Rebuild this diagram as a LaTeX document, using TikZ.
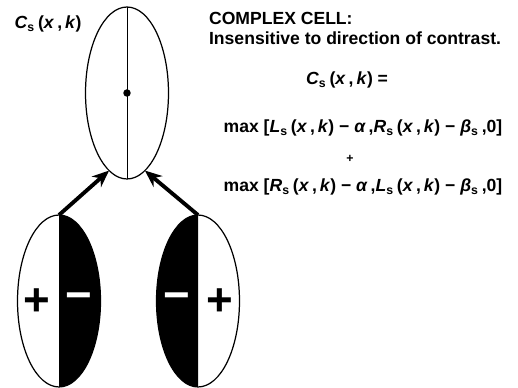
\documentclass[tikz,border=0pt]{standalone}
\usepackage{fontspec}
\setmainfont{Liberation Sans}
\usetikzlibrary{arrows.meta,positioning,shapes.geometric}
\tikzset{
  field/.style ={ellipse,draw=black,line width=0.7pt,inner sep=0pt,outer sep=0pt,
                 minimum width=1.66cm,minimum height=3.44cm},
  sign/.style  ={inner sep=0pt,font=\fontsize{26}{26}\selectfont\bfseries},
  txt/.style   ={inner sep=1pt,font=\fontsize{10}{12}\selectfont\bfseries},
  feed/.style  ={-{Stealth[length=3.4mm,width=2.8mm]},line width=2.2pt}
}
\newcommand{\var}[1]{\textit{#1}}
\newcommand{\sbs}{\textsubscript{s}}

\begin{document}
\begin{tikzpicture}[x=0.02cm,y=0.02cm]
  \useasboundingbox (0,0) rectangle (518,388);
  % complex cell and its two simple-cell inputs
  \node[field] (cplx) at (127,295) {};
  \node[field] (onoff) at (59,87) {};
  \node[field] (offon) at (198,87) {};
  \fill (onoff.north) arc[start angle=90,end angle=-90,x radius=0.83cm,y radius=1.72cm] -- cycle;
  \fill (offon.north) arc[start angle=90,end angle=270,x radius=0.83cm,y radius=1.72cm] -- cycle;
  \draw[line width=0.45pt] (cplx.north) -- (cplx.south);
  \fill (cplx.center) circle[radius=0.075cm];
  \node[sign] (lplus) at (37,86) {+};
  \node[sign,text=white] (lminus) at (79,86) {−};
  \node[sign,text=white] (rminus) at (177,86) {−};
  \node[sign] (rplus) at (220,86) {+};
  \draw[feed] (onoff.north) -- (cplx.-103);
  \draw[feed] (offon.north) -- (cplx.-77);
  % labels and equations
  \node[txt] (clabel) at (48,364) {\var{C}\sbs\,(\var{x}\,,\,\var{k})};
  \node[txt,anchor=west] (head) at (207,370) {COMPLEX CELL:};
  \node[txt,anchor=west] (rule) at (207,350) {Insensitive to direction of contrast.};
  \node[txt] (lhs) at (347,308) {\var{C}\sbs\,(\var{x}\,,\,\var{k}) =};
  \node[txt] (maxlr) at (363,260) {max [\var{L}\sbs\,(\var{x}\,,\,\var{k}) − \var{α}\,,\var{R}\sbs\,(\var{x}\,,\,\var{k}) − \var{β}\sbs\,,0]};
  \node[txt,font=\fontsize{7}{7}\selectfont\bfseries] (sum) at (350,229) {+};
  \node[txt] (maxrl) at (363,201) {max [\var{R}\sbs\,(\var{x}\,,\,\var{k}) − \var{α}\,,\var{L}\sbs\,(\var{x}\,,\,\var{k}) − \var{β}\sbs\,,0]};
\end{tikzpicture}
\end{document}
